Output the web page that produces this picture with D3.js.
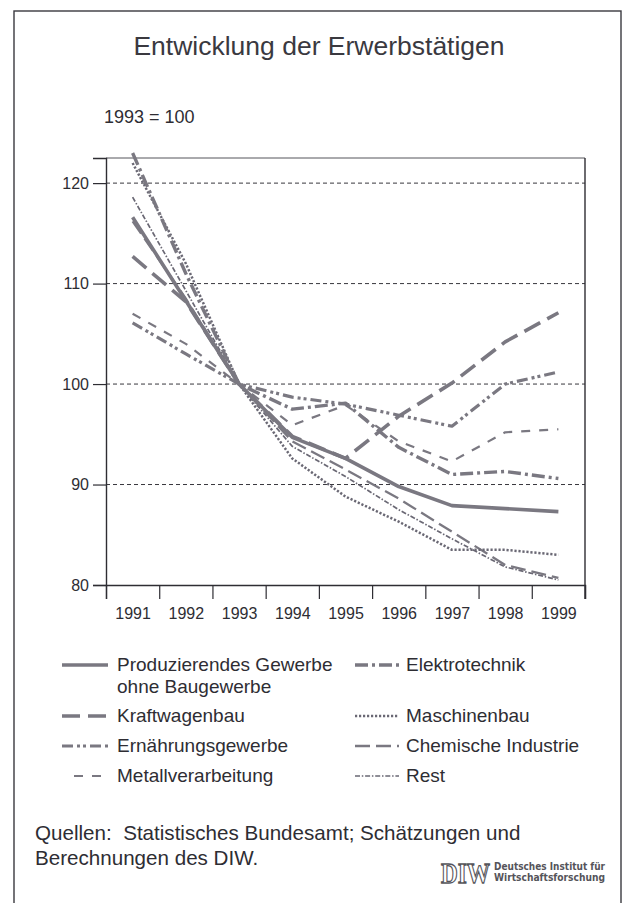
<!DOCTYPE html>
<html><head><meta charset="utf-8">
<script src="https://cdn.jsdelivr.net/npm/d3@7"></script>
<style>
html,body{margin:0;padding:0;background:#fff;}
svg{display:block;font-family:"Liberation Sans",Arial,Helvetica,sans-serif;}
</style></head>
<body><svg id="c" width="627" height="903"></svg>
<script>
const years = [1991,1992,1993,1994,1995,1996,1997,1998,1999];
const produzierendes = [116.6,108.3,100,94.7,92.6,89.8,87.9,87.6,87.3];
const kraftwagenbau  = [112.7,108.2,100,94.8,92.6,96.8,100.1,104.2,107.1];
const ernaehrung     = [106.1,103.0,100,98.7,98.0,96.9,95.8,100.0,101.2];
const metall         = [107.0,104.0,100,95.9,97.9,94.3,92.3,95.2,95.5];
const elektro        = [123.0,111.0,100,97.5,98.1,93.7,91.0,91.3,90.6];
const maschinenbau   = [122.0,112.0,100,92.6,88.8,86.3,83.5,83.5,83.0];
const chemie         = [116.2,108.5,100,94.3,91.5,88.6,85.3,82.0,80.7];
const rest           = [118.6,109.3,100,93.8,90.8,87.5,84.6,81.8,80.5];
const yTicks = [80,90,100,110,120];
const seriesNames = ["Produzierendes Gewerbe|ohne Baugewerbe","Elektrotechnik","Kraftwagenbau","Maschinenbau","Ernährungsgewerbe","Chemische Industrie","Metallverarbeitung","Rest"];

const col = "#7a7881";
const colThin = "#6a6874";
const styles = {
  "Produzierendes Gewerbe|ohne Baugewerbe": {data: produzierendes, w:3.6, dash:null, c:col},
  "Elektrotechnik": {data: elektro, w:3.4, dash:"13,4,3,4", c:col},
  "Kraftwagenbau": {data: kraftwagenbau, w:3.6, dash:"18,8", c:col},
  "Maschinenbau": {data: maschinenbau, w:2.5, dash:"2.2,1.8", c:colThin},
  "Ernährungsgewerbe": {data: ernaehrung, w:3.2, dash:"11,4,3,3,3,4", c:col},
  "Chemische Industrie": {data: chemie, w:2.3, dash:"15,6", c:col},
  "Metallverarbeitung": {data: metall, w:2.2, dash:"9,9", c:col},
  "Rest": {data: rest, w:1.7, dash:"5,1.8,1.5,1.8", c:colThin}
};
const drawOrder = ["Rest","Chemische Industrie","Maschinenbau","Metallverarbeitung","Ernährungsgewerbe","Elektrotechnik","Kraftwagenbau","Produzierendes Gewerbe|ohne Baugewerbe"];

const svg = d3.select("#c");
const txt = "#2e2d33";

// outer frame
svg.append("rect").attr("x",14).attr("y",11).attr("width",607).attr("height",910)
  .attr("fill","none").attr("stroke","#3a393f").attr("stroke-width",1.4);

svg.append("text").attr("x",319).attr("y",55).attr("text-anchor","middle")
  .attr("font-size",26.5).attr("fill","#3a393f").text("Entwicklung der Erwerbstätigen");
svg.append("text").attr("x",104).attr("y",123).attr("font-size",18).attr("fill",txt).text("1993 = 100");

const L=106,R=585,T=158,B=585;
const x = d3.scaleLinear().domain([1990.5,1999.5]).range([L,R]);
const y = d3.scaleLinear().domain([80,122.5]).range([B,T]);

// gridlines
svg.append("g").selectAll("line").data(yTicks.filter(v=>v>80)).join("line")
  .attr("x1",L).attr("x2",R).attr("y1",d=>y(d)).attr("y2",d=>y(d))
  .attr("stroke","#38373d").attr("stroke-width",1).attr("stroke-dasharray","4,3");

// plot box
svg.append("line").attr("x1",L).attr("x2",R).attr("y1",T).attr("y2",T).attr("stroke","#55545a").attr("stroke-width",1);
svg.append("line").attr("x1",R).attr("x2",R).attr("y1",T).attr("y2",B+14).attr("stroke","#2e2d33").attr("stroke-width",1.4);

// y axis
const yAxis = d3.axisLeft(y).tickValues(yTicks).tickSize(13).tickPadding(4);
const gy = svg.append("g").attr("transform",`translate(${L},0)`).call(yAxis);
gy.select(".domain").attr("stroke","#2e2d33").attr("stroke-width",1.4);
gy.selectAll(".tick line").attr("stroke","#2e2d33").attr("stroke-width",1.2);
gy.selectAll(".tick text").attr("font-size",16).attr("fill",txt).attr("font-family","Liberation Sans, Arial, sans-serif");

// x axis: ticks at boundaries, labels at centers
const bounds = d3.range(1990.5,1999.6,1);
const gxt = svg.append("g").attr("transform",`translate(0,${B})`)
  .call(d3.axisBottom(x).tickValues(bounds).tickSize(14).tickFormat(""));
gxt.select(".domain").attr("stroke","#2e2d33").attr("stroke-width",1.4);
gxt.selectAll(".tick line").attr("stroke","#2e2d33").attr("stroke-width",1.2);
const gxl = svg.append("g").attr("transform",`translate(0,${B})`)
  .call(d3.axisBottom(x).tickValues(years).tickSize(0).tickPadding(23).tickFormat(d3.format("d")));
gxl.select(".domain").remove();
gxl.selectAll(".tick text").attr("font-size",16).attr("fill",txt).attr("font-family","Liberation Sans, Arial, sans-serif");

// lines
const line = d3.line().x((d,i)=>x(years[i])).y(d=>y(d));
drawOrder.forEach(n=>{
  const s = styles[n];
  svg.append("path").datum(s.data).attr("d",line).attr("fill","none")
    .attr("stroke",s.c).attr("stroke-width",s.w)
    .attr("stroke-dasharray",s.dash).attr("stroke-linejoin","round");
});

// legend
const rows = [665,716,746,776];
seriesNames.forEach((n,i)=>{
  const s = styles[n];
  const r = Math.floor(i/2), c = i%2;
  const yy = rows[r];
  const x1 = c===0 ? (n==="Metallverarbeitung"?74:62) : 355;
  const x2 = c===0 ? 108 : 399;
  const tx = c===0 ? 117 : 406;
  svg.append("line").attr("x1",x1).attr("x2",x2).attr("y1",yy).attr("y2",yy)
    .attr("stroke",s.c).attr("stroke-width",s.w).attr("stroke-dasharray",s.dash);
  const parts = n.split("|");
  parts.forEach((p,k)=>{
    svg.append("text").attr("x",tx).attr("y",yy+6+k*22).attr("font-size",19).attr("fill",txt).text(p);
  });
});

// sources
svg.append("text").attr("x",35).attr("y",840).attr("font-size",20.6).attr("fill",txt)
  .attr("xml:space","preserve").text("Quellen:  Statistisches Bundesamt; Schätzungen und");
svg.append("text").attr("x",35).attr("y",865).attr("font-size",20.6).attr("fill",txt).text("Berechnungen des DIW.");

// DIW logo
const lg = svg.append("g");
lg.append("text").attr("x",441).attr("y",883).attr("font-size",29).attr("font-weight","bold")
  .attr("font-family","Liberation Serif, serif").attr("fill","#fff").attr("stroke","#55545a").attr("stroke-width",1.3)
  .attr("textLength",49).attr("lengthAdjust","spacingAndGlyphs").text("DIW");
lg.append("text").attr("x",494).attr("y",870).attr("font-size",10.5).attr("font-weight","bold").attr("fill","#55545a")
  .attr("font-family","DejaVu Sans Condensed, DejaVu Sans, sans-serif")
  .attr("textLength",111).attr("lengthAdjust","spacingAndGlyphs").text("Deutsches Institut für");
lg.append("text").attr("x",494).attr("y",881).attr("font-size",10.5).attr("font-weight","bold").attr("fill","#55545a")
  .attr("font-family","DejaVu Sans Condensed, DejaVu Sans, sans-serif")
  .attr("textLength",111).attr("lengthAdjust","spacingAndGlyphs").text("Wirtschaftsforschung");
</script></body></html>
